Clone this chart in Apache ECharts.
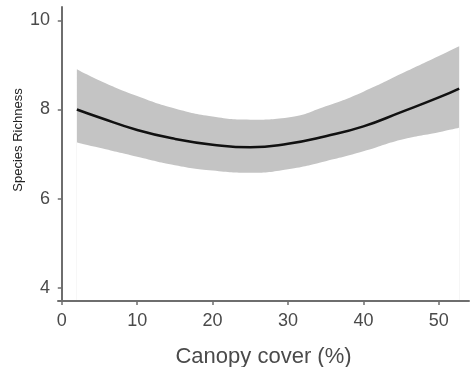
<!DOCTYPE html>
<html>
<head>
<meta charset="utf-8">
<script src="https://cdn.jsdelivr.net/npm/echarts@6/dist/echarts.min.js"></script>
<style>
  html, body { margin: 0; padding: 0; background: #fff; }
  #chart { width: 471px; height: 367px; }
</style>
</head>
<body>
<div id="chart"></div>
<script>
const canopy = [2, 5, 10, 15, 20, 25, 30, 35, 40, 45, 50, 52.7];
// fitted species richness and its confidence band
const fitted = [8.0, 7.82, 7.54, 7.34, 7.21, 7.15, 7.23, 7.40, 7.62, 7.94, 8.27, 8.47];
const upper = [8.9, 8.65, 8.30, 8.02, 7.84, 7.77, 7.82, 8.07, 8.40, 8.80, 9.20, 9.42];
const lower = [7.26, 7.14, 6.94, 6.75, 6.63, 6.58, 6.66, 6.84, 7.06, 7.32, 7.49, 7.59];
const xTicks = [0, 10, 20, 30, 40, 50];
const yTicks = [4, 6, 8, 10];

const axisColor = '#6e6e6e';
const labelColor = '#4a4a4a';

const chart = echarts.init(document.getElementById('chart'));

const option = {
  animation: false,
  backgroundColor: '#fff',
  grid: { left: 58, right: 2, top: 7, bottom: 66, outerBoundsMode: 'none', containLabel: false },
  xAxis: {
    type: 'value',
    min: -0.5,
    max: 54,
    z: 10,
    name: 'Canopy cover (%)',
    nameLocation: 'middle',
    nameGap: 45,
    nameTextStyle: { fontFamily: 'Liberation Sans', fontSize: 22, color: labelColor },
    axisLine: { show: true, lineStyle: { color: axisColor, width: 2 } },
    axisTick: { show: true, length: 4, customValues: xTicks, lineStyle: { color: axisColor, width: 1.5 } },
    axisLabel: { customValues: xTicks, margin: 11, fontFamily: 'Liberation Sans', fontSize: 18, color: labelColor },
    splitLine: { show: false }
  },
  yAxis: {
    type: 'value',
    min: 3.7,
    max: 10.3,
    z: 10,
    axisLine: { show: true, lineStyle: { color: axisColor, width: 2 } },
    axisTick: { show: true, length: 4, customValues: yTicks, lineStyle: { color: axisColor, width: 1.5 } },
    axisLabel: { customValues: yTicks, margin: 8, fontFamily: 'Liberation Sans', fontSize: 18, color: labelColor },
    splitLine: { show: false }
  },
  graphic: [{
    type: 'text',
    x: 18,
    y: 140,
    rotation: Math.PI / 2,
    style: {
      text: 'Species Richness',
      fontFamily: 'Liberation Sans',
      fontSize: 13,
      fill: '#222',
      align: 'center',
      verticalAlign: 'middle'
    }
  }],
  series: [
    {
      // upper edge of the band, filled down to the axis
      type: 'line',
      smooth: true,
      symbol: 'none',
      lineStyle: { width: 0, color: '#c4c4c4' },
      areaStyle: { color: '#c4c4c4', opacity: 1, origin: 'start' },
      data: canopy.map((x, i) => [x, upper[i]]),
      z: 1
    },
    {
      // lower edge, white fill cuts the band out
      type: 'line',
      smooth: true,
      symbol: 'none',
      lineStyle: { width: 0, color: '#fff' },
      areaStyle: { color: '#fff', opacity: 1, origin: 'start' },
      data: canopy.map((x, i) => [x, lower[i]]),
      z: 2
    },
    {
      type: 'line',
      smooth: true,
      symbol: 'none',
      lineStyle: { color: '#111', width: 2.5 },
      data: canopy.map((x, i) => [x, fitted[i]]),
      z: 3
    }
  ]
};

chart.setOption(option);
</script>
</body>
</html>
